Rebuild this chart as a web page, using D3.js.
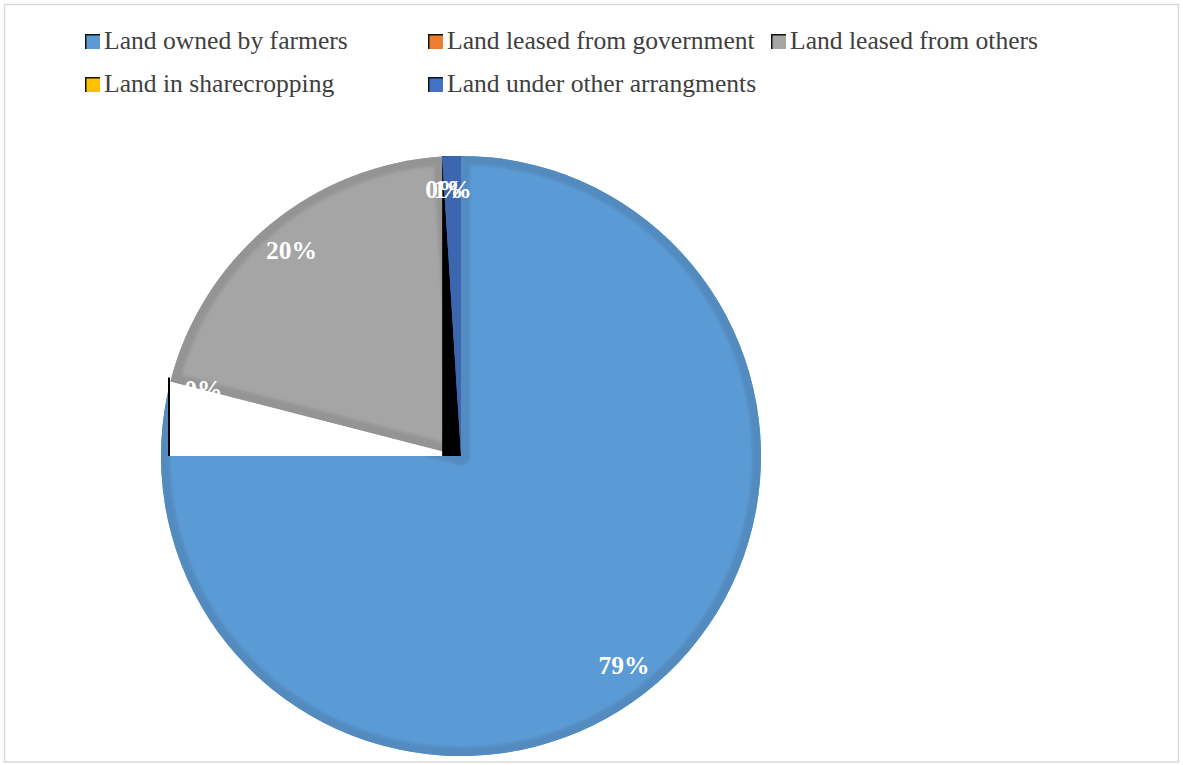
<!DOCTYPE html>
<html>
<head>
<meta charset="utf-8">
<script src="https://cdn.jsdelivr.net/npm/d3@7/dist/d3.min.js"></script>
<style>
  html, body { margin: 0; padding: 0; background: #ffffff; }
  svg { display: block; }
</style>
</head>
<body>
<svg id="chart" width="1183" height="765"></svg>
<script>
// Land tenure categories and their share of total area (%)
const categories = [
  "Land owned by farmers",
  "Land leased from government",
  "Land leased from others",
  "Land in sharecropping",
  "Land under other arrangments"
];
const shares = [79, 0, 20, 0, 1];
const sliceColors = ["#5b9bd5", "#ed7d31", "#a5a5a5", "#ffc000", "#4472c4"];

const W = 1183, H = 765;
const cx = 461, cy = 456, R = 300;
const bevel = 9;
const labelRadius = 266;

const svg = d3.select("#chart");
const defs = svg.append("defs");

defs.append("filter").attr("id", "soft")
  .attr("x", "-10%").attr("y", "-10%").attr("width", "120%").attr("height", "120%")
  .append("feGaussianBlur").attr("stdDeviation", 1.6);

// outer frame
svg.append("rect")
  .attr("x", 4.5).attr("y", 4.5)
  .attr("width", W - 9).attr("height", H - 7.5)
  .attr("fill", "#ffffff")
  .attr("stroke", "#d9d9d9").attr("stroke-width", 1.5);

// legend: three columns, two rows
const legendCol = d3.scaleLinear().domain([0, 1]).range([85, 428]);
const legendRow = d3.scaleLinear().domain([0, 1]).range([49, 92]);
const sw = 15;
const legend = svg.append("g").attr("class", "legend");
categories.forEach((name, i) => {
  const col = i % 3, row = Math.floor(i / 3);
  const x = legendCol(col), y = legendRow(row);
  const g = legend.append("g").attr("transform", `translate(${x},${y})`);
  g.append("rect")
    .attr("x", 0).attr("y", -sw).attr("width", sw).attr("height", sw)
    .attr("fill", sliceColors[i]);
  g.append("path")
    .attr("d", `M0.75,0 V${-sw + 0.75} H${sw}`)
    .attr("fill", "none").attr("stroke", "#111").attr("stroke-width", 1.5);
  g.append("text")
    .attr("x", sw + 4).attr("y", 0)
    .attr("font-family", "'Liberation Serif', 'Times New Roman', serif")
    .attr("font-size", 25.6)
    .attr("fill", "#404040")
    .text(name);
});

// pie
const pie = d3.pie().sort(null).value(d => d)
  .startAngle(0).endAngle(2 * Math.PI);
const slices = pie(shares);
const arc = d3.arc().innerRadius(0).outerRadius(R);
const labelArc = d3.arc().innerRadius(labelRadius).outerRadius(labelRadius);

const plot = svg.append("g").attr("transform", `translate(${cx},${cy})`);

slices.forEach((s, i) => {
  if (s.endAngle - s.startAngle <= 0) return;

  // the last slice sits on a dark block spanning its own bounding box
  if (i === slices.length - 1) {
    const probe = plot.append("path").attr("d", arc(s)).attr("fill", "none");
    const bb = probe.node().getBBox();
    probe.remove();
    plot.append("rect")
      .attr("x", bb.x).attr("y", bb.y)
      .attr("width", bb.width).attr("height", bb.height)
      .attr("fill", "#000000");
  }

  const g = plot.append("g");
  const clipId = "clip" + i;
  defs.append("clipPath").attr("id", clipId)
    .append("path").attr("d", arc(s)).attr("transform", `translate(${cx},${cy})`);

  g.append("path").attr("d", arc(s)).attr("fill", sliceColors[i]);
  // darker inner rim
  g.append("g").attr("clip-path", `url(#${clipId})`)
    .attr("transform", `translate(${-cx},${-cy})`)
    .append("path")
    .attr("transform", `translate(${cx},${cy})`)
    .attr("d", arc(s))
    .attr("fill", "none")
    .attr("stroke", d3.color(sliceColors[i]).darker(0.3))
    .attr("stroke-width", bevel * 2)
    .attr("stroke-linejoin", "round")
    .attr("filter", "url(#soft)");

  // first slice: the part past nine o'clock is blanked out to its bounding box
  if (i === 0 && s.endAngle > 1.5 * Math.PI) {
    const part = d3.arc().innerRadius(0).outerRadius(R - bevel + 1)
      ({ startAngle: 1.5 * Math.PI, endAngle: s.endAngle });
    const probe = plot.append("path").attr("d", part).attr("fill", "none");
    const bb = probe.node().getBBox();
    probe.remove();
    plot.append("rect")
      .attr("x", bb.x).attr("y", bb.y - 6)
      .attr("width", bb.width).attr("height", bb.height + 6)
      .attr("fill", "#ffffff");
    plot.append("line")
      .attr("x1", bb.x).attr("x2", bb.x)
      .attr("y1", bb.y - 6).attr("y2", bb.y + bb.height)
      .attr("stroke", "#000000").attr("stroke-width", 2);
  }
});

// percentage labels
plot.selectAll("text.pct")
  .data(slices)
  .join("text")
  .attr("class", "pct")
  .attr("transform", d => `translate(${labelArc.centroid(d)})`)
  .attr("dy", "0.3em")
  .attr("text-anchor", "middle")
  .attr("font-family", "'Liberation Serif', 'Times New Roman', serif")
  .attr("font-weight", "bold")
  .attr("font-size", 25.5)
  .attr("fill", "#ffffff")
  .text(d => d3.format(".0f")(d.data) + "%");
</script>
</body>
</html>
